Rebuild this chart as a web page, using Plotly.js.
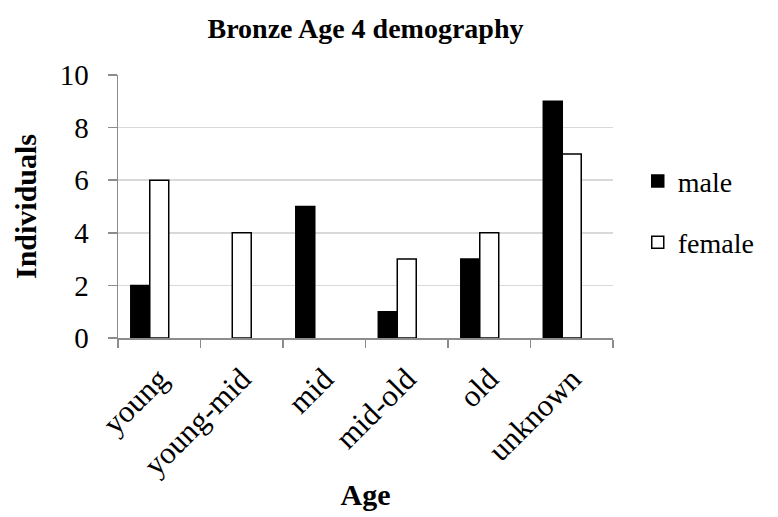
<!DOCTYPE html>
<html><head><meta charset="utf-8">
<script src="https://cdn.plot.ly/plotly-3.0.1.min.js"></script>
<style>body{margin:0;background:#fff}#c{width:778px;height:517px}</style>
</head><body><div id="c"></div>
<script>
const categories = ["young","young-mid","mid","mid-old","old","unknown"];
const male = [2, 0, 5, 1, 3, 9];
const female = [6, 4, 0, 3, 4, 7];
const spare = [null, null, null, null, null, null];

const serif = "Liberation Serif, Times New Roman, serif";
const edge = v => v.map(d => d ? 1.5 : 0);
const traces = [
  {type:"bar", name:"male", legendgroup:"m", x:categories, y:male, marker:{color:"#000", line:{color:"#000", width:edge(male)}}},
  {type:"bar", name:"female", legendgroup:"f", x:categories, y:female, marker:{color:"#fff", line:{color:"#000", width:edge(female)}}},
  {type:"bar", name:"", legendgroup:"s", x:categories, y:spare, showlegend:false, hoverinfo:"skip", marker:{color:"#fff"}}
];
const layout = {
  width:778, height:517,
  margin:{l:118, r:165, t:75, b:179},
  paper_bgcolor:"#fff", plot_bgcolor:"#fff",
  barmode:"group", bargap:0.31, bargroupgap:0,
  font:{family:serif, color:"#000", size:28},
  title:{text:"<b>Bronze Age 4 demography</b>", font:{family:serif, size:28, color:"#000"}, x:0.5, xref:"paper", xanchor:"center", y:0.945, yref:"container", yanchor:"middle"},
  xaxis:{type:"category", tickson:"boundaries", ticks:"outside", ticklen:8, tickcolor:"#8c8c8c", tickwidth:1.5,
         showline:true, linecolor:"#8c8c8c", linewidth:1.5, tickangle:-45, tickfont:{size:31},
         ticklabelstandoff:9,
         showgrid:false, fixedrange:true, automargin:false,
         title:{text:"<b>Age</b>", font:{size:30}, standoff:2}},
  yaxis:{range:[0,10], dtick:2, ticks:"outside", ticklen:9, tickcolor:"#8c8c8c", tickwidth:1.5,
         showline:true, linecolor:"#8c8c8c", linewidth:1.5, gridcolor:"#d9d9d9", gridwidth:1.5,
         zeroline:false, tickfont:{size:29}, automargin:false, ticklabelstandoff:13,
         title:{text:"<b>Individuals</b>", font:{size:30}, standoff:14}},
  legend:{x:1.05, xanchor:"left", y:0.48, yanchor:"middle", font:{size:28}, tracegroupgap:22,
          traceorder:"grouped", itemwidth:30, bgcolor:"rgba(0,0,0,0)"},
  showlegend:true
};
Plotly.newPlot("c", traces, layout, {displayModeBar:false, staticPlot:true});
</script></body></html>
